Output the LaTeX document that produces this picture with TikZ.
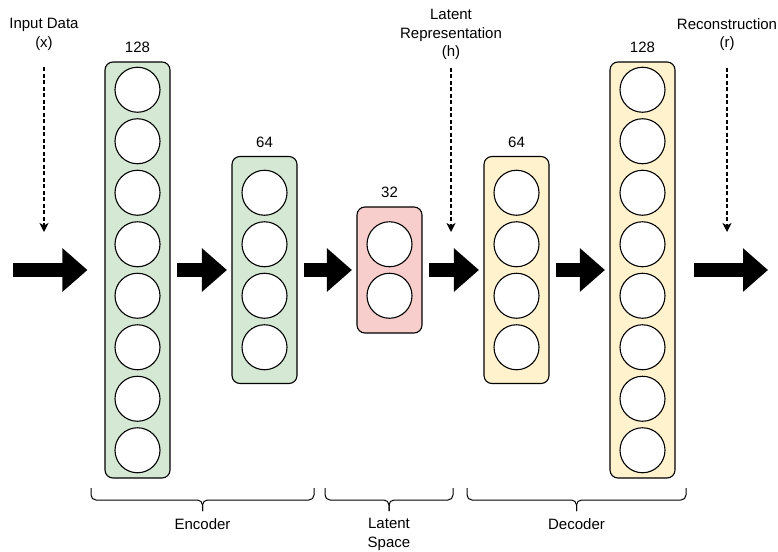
\documentclass[tikz,border=0pt]{standalone}
\usepackage{fontspec}
\setmainfont{Liberation Sans}
\usetikzlibrary{arrows.meta,positioning}

\definecolor{encfill}{HTML}{D5E8D4}
\definecolor{latfill}{HTML}{F8CECC}
\definecolor{decfill}{HTML}{FFF2CC}

\begin{document}
\begin{tikzpicture}[x=1pt,y=-1pt,
        font=\fontsize{15}{18.5}\selectfont,
        layer/.style={draw, line width=1.1pt, rounded corners=8pt, minimum width=65pt},
        neuron/.style={circle, draw, fill=white, line width=1.1pt, minimum size=45pt, inner sep=0pt},
        txt/.style={inner sep=0pt, align=center},
        flow/.style={line width=14pt, -{Triangle[length=25pt,width=42pt]}},
        pointer/.style={line width=1.2pt, dash pattern=on 4pt off 2.5pt, -{Stealth[length=9pt,width=9pt,inset=2.5pt]}},
        brace/.style={line width=1pt, rounded corners=5pt}]
    \useasboundingbox (0,0) rectangle (778,551);

    % layers: name / x / neurons / fill / height / size
    \foreach \name/\x/\n/\col/\h/\size in {enc1/137.5/8/encfill/416/128, enc2/264.5/4/encfill/227/64,
            lat/389.5/2/latfill/126/32, dec1/516.5/4/decfill/227/64, dec2/642.5/8/decfill/416/128}{
        \node[layer, fill=\col, minimum height=\h pt] (\name) at (\x,270) {};
        \foreach \i in {1,...,\n}
            \node[neuron] (\name-\i) at (\x,{270+(\i-(\n+1)/2)*51.5}) {};
        \node[txt, above=8.5pt of \name] (\name-size) {\size};
    }

    % data flow
    \coordinate (src) at (13,270);
    \coordinate (out) at (768,270);
    \draw[flow, shorten >=17pt] (src) -- (enc1);
    \draw[flow, shorten <=6.5pt, shorten >=4.5pt] (enc1) -- (enc2);
    \draw[flow, shorten <=6.5pt, shorten >=4.5pt] (enc2) -- (lat);
    \draw[flow, shorten <=6.5pt, shorten >=4.5pt] (lat) -- (dec1);
    \draw[flow, shorten <=6.5pt, shorten >=4.5pt] (dec1) -- (dec2);
    \draw[flow, shorten <=18pt] (dec2) -- (out);

    % x, h, r
    \node[txt, anchor=north] (in-lbl) at (44,18) {Input Data\\(x)};
    \node[txt, anchor=north] (h-lbl) at (451,9) {Latent\\Representation\\(h)};
    \node[txt, anchor=north] (r-lbl) at (727,18) {Reconstruction\\(r)};
    \coordinate (in-tip) at (44,232);
    \coordinate (h-tip) at (451,232);
    \coordinate (r-tip) at (727,232);
    \draw[pointer, shorten <=17pt] (in-lbl) -- (in-tip);
    \draw[pointer, shorten <=8pt] (h-lbl) -- (h-tip);
    \draw[pointer, shorten <=17pt] (r-lbl) -- (r-tip);

    % braces
    \foreach \xl/\xr/\part/\lbl in {91/314/enc/Encoder, 325/453/lat/{Latent\\Space}, 467/686/dec/Decoder}{
        \draw[brace] (\xl,488) -- (\xl,500) -- ({(\xl+\xr)/2},500) -- ({(\xl+\xr)/2},511);
        \draw[brace] (\xr,488) -- (\xr,500) -- ({(\xl+\xr)/2},500) -- ({(\xl+\xr)/2},511);
        \node[txt, anchor=north] (\part-brace) at ({(\xl+\xr)/2},518) {\lbl};
    }
\end{tikzpicture}
\end{document}
